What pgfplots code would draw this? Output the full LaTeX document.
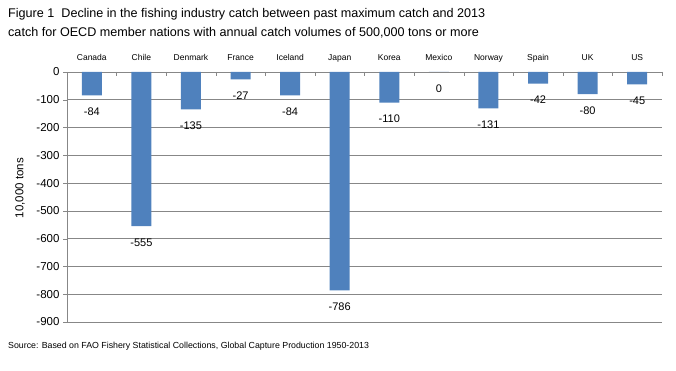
\documentclass[border=0pt]{standalone}
\usepackage{pgfplots}
\pgfplotsset{compat=1.18}
\usepackage{fontspec}
\setmainfont{Liberation Sans}
\definecolor{barblue}{HTML}{4F81BD}
\definecolor{gridgray}{HTML}{878787}
\begin{document}
\begin{tikzpicture}
\path[use as bounding box] (0,0) rectangle (676pt,371pt);
\node[anchor=base west, inner sep=0, font=\fontsize{12.6}{15}\selectfont] at (8pt,353pt) {Figure 1\ \ Decline in the fishing industry catch between past maximum catch and 2013};
\node[anchor=base west, inner sep=0, font=\fontsize{12.6}{15}\selectfont] at (8pt,334pt) {catch for OECD member nations with annual catch volumes of 500,000 tons or more};
\node[anchor=base west, inner sep=0, font=\fontsize{8.8}{10}\selectfont] at (8pt,22pt) {Source: Based on FAO Fishery Statistical Collections, Global Capture Production 1950-2013};
\begin{axis}[
  at={(67pt,49pt)}, anchor=south west,
  scale only axis, width=595pt, height=250pt,
  xmin=-0.5, xmax=11.5, ymin=-900, ymax=0,
  axis x line*=top, axis y line*=left,
  axis line style={gridgray},
  ybar, bar width=20pt, bar shift=0pt,
  xtick={0,...,11},
  xticklabels={Canada,Chile,Denmark,France,Iceland,Japan,Korea,Mexico,Norway,Spain,UK,US},
  minor xtick={-0.5,0.5,...,11.5},
  every major x tick/.style={draw=none},
  xtick align=inside, ytick align=outside,
  major tick length=4pt, minor tick length=4pt,
  tick style={gridgray},
  x tick label style={font=\fontsize{8.5}{10}\selectfont, anchor=base, yshift=11pt},
  ytick={-900,-800,...,0},
  y tick label style={font=\fontsize{11.5}{13}\selectfont},
  /pgf/number format/assume math mode=true,
  ymajorgrids, grid style={gridgray, line width=0.6pt},
  ylabel={10,000 tons},
  every axis y label/.style={at={(axis description cs:-0.079,0.536)}, rotate=90, anchor=center, font=\fontsize{11.5}{13}\selectfont},
  nodes near coords,
  every node near coord/.append style={anchor=north, yshift=-9pt, font=\fontsize{11}{13}\selectfont, /pgf/number format/assume math mode=true},
]
\addplot[fill=barblue, draw=none] coordinates {
(0,-84) (1,-555) (2,-135) (3,-27) (4,-84) (5,-786) (6,-110) (7,0) (8,-131) (9,-42) (10,-80) (11,-45)
};
\end{axis}
\end{tikzpicture}
\end{document}
